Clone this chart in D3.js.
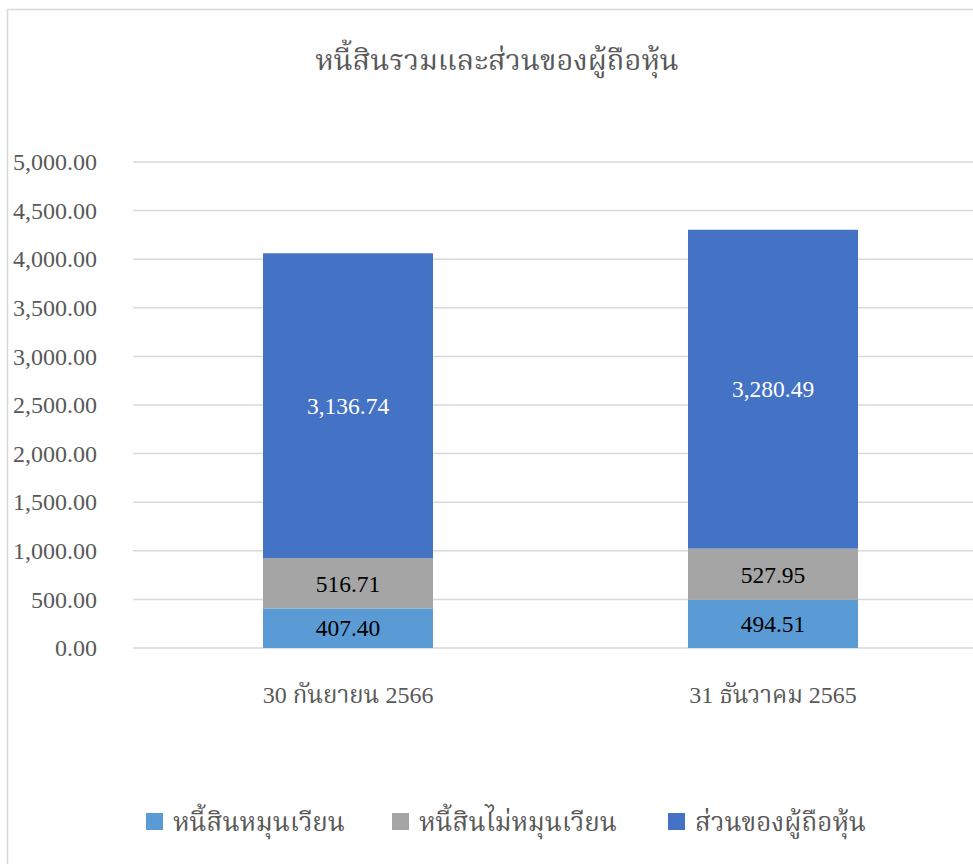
<!DOCTYPE html>
<html>
<head>
<meta charset="utf-8">
<script src="https://cdn.jsdelivr.net/npm/d3@7"></script>
<style>
  body { margin: 0; background: #fff; }
  svg text { font-family: "Liberation Serif", "Norasi", "Noto Serif Thai", "Laksaman", serif; }
</style>
</head>
<body>
<div id="chart"></div>
<script>
// data
const categories = ["30 กันยายน 2566", "31 ธันวาคม 2565"];
const seriesNames = ["หนี้สินหมุนเวียน", "หนี้สินไม่หมุนเวียน", "ส่วนของผู้ถือหุ้น"];
const currentLiab = [407.40, 494.51];
const nonCurrentLiab = [516.71, 527.95];
const equity = [3136.74, 3280.49];
const yTicks = [0, 500, 1000, 1500, 2000, 2500, 3000, 3500, 4000, 4500, 5000];
const colors = ["#5b9bd5", "#a5a5a5", "#4472c4"];
const labelColors = ["#000", "#000", "#fff"];

const W = 973, H = 864;
const margin = { top: 162, left: 135.5 };

// split text so digits keep the serif latin font
function mixedText(sel, str) {
    const parts = str.match(/[\u0E00-\u0E7F]+|[^\u0E00-\u0E7F]+/g) || [];
    parts.forEach(p => {
        const t = sel.append("tspan").text(p);
        if (/[\u0E00-\u0E7F]/.test(p)) t.style("font-family", "Norasi, 'Noto Serif Thai', Laksaman, serif");
        else t.style("font-family", "'Liberation Serif', serif");
    });
}

const svg = d3.select("#chart").append("svg")
    .attr("width", W).attr("height", H);

// chart border
svg.append("rect")
    .attr("x", 7.5).attr("y", 9.5)
    .attr("width", W).attr("height", H)
    .attr("fill", "none").attr("stroke", "#d9d9d9").attr("stroke-width", 1.5);

svg.append("text")
    .attr("x", 497).attr("y", 70)
    .attr("text-anchor", "middle")
    .attr("font-size", 29)
    .attr("fill", "#595959")
    .text("หนี้สินรวมและส่วนของผู้ถือหุ้น");

const x = d3.scaleBand()
    .domain(categories)
    .range([margin.left, 985.5])
    .paddingInner(0.6)
    .paddingOuter(0.3);

const y = d3.scaleLinear()
    .domain([0, 5000])
    .range([648, margin.top]);

// gridlines
svg.append("g")
    .selectAll("line")
    .data(yTicks)
    .enter().append("line")
    .attr("x1", 133).attr("x2", W)
    .attr("y1", d => y(d)).attr("y2", d => y(d))
    .attr("stroke", "#d9d9d9").attr("stroke-width", 1.5);

// y axis labels
const yAxis = d3.axisLeft(y)
    .tickValues(yTicks)
    .tickSize(0)
    .tickPadding(0)
    .tickFormat(d3.format(",.2f"));

const yg = svg.append("g")
    .attr("transform", "translate(97,0)")
    .call(yAxis);
yg.select(".domain").remove();
yg.selectAll("text")
    .attr("font-size", 24)
    .attr("fill", "#595959");

// stacked data
const rows = categories.map((c, i) => ({
    cat: c, s0: currentLiab[i], s1: nonCurrentLiab[i], s2: equity[i]
}));
const stack = d3.stack().keys(["s0", "s1", "s2"]);
const layers = stack(rows);

const lg = svg.selectAll(".layer")
    .data(layers)
    .enter().append("g")
    .attr("class", "layer")
    .attr("fill", (d, i) => colors[i]);

lg.selectAll("rect")
    .data(d => d)
    .enter().append("rect")
    .attr("x", d => x(d.data.cat))
    .attr("width", x.bandwidth())
    .attr("y", d => y(d[1]))
    .attr("height", d => y(d[0]) - y(d[1]));

svg.selectAll(".layer").each(function(layer, i) {
    d3.select(this).selectAll("text")
        .data(layer)
        .enter().append("text")
        .attr("x", d => x(d.data.cat) + x.bandwidth() / 2)
        .attr("y", d => (y(d[0]) + y(d[1])) / 2)
        .attr("dy", "0.35em")
        .attr("text-anchor", "middle")
        .attr("font-size", 23.5)
        .attr("fill", labelColors[i])
        .text(d => d3.format(",.2f")(d[1] - d[0]));
});

// category labels
const xAxis = d3.axisBottom(x).tickSize(0).tickPadding(0).tickFormat("");
const xg = svg.append("g")
    .attr("transform", "translate(0,686)")
    .call(xAxis);
xg.select(".domain").remove();
xg.selectAll(".tick text")
    .attr("font-size", 24)
    .attr("fill", "#595959")
    .attr("dy", "0.71em")
    .each(function(d) { mixedText(d3.select(this), d); });

// legend
const legendX = [146, 392, 668];
const legend = svg.selectAll(".legend")
    .data(seriesNames)
    .enter().append("g")
    .attr("class", "legend")
    .attr("transform", (d, i) => `translate(${legendX[i]},822)`);

legend.append("rect")
    .attr("x", 0).attr("y", -9)
    .attr("width", 17).attr("height", 17)
    .attr("fill", (d, i) => colors[i]);

legend.append("text")
    .attr("x", 27).attr("y", 0)
    .attr("dy", "0.35em")
    .attr("font-size", 26)
    .attr("fill", "#595959")
    .text(d => d);
</script>
</body>
</html>
